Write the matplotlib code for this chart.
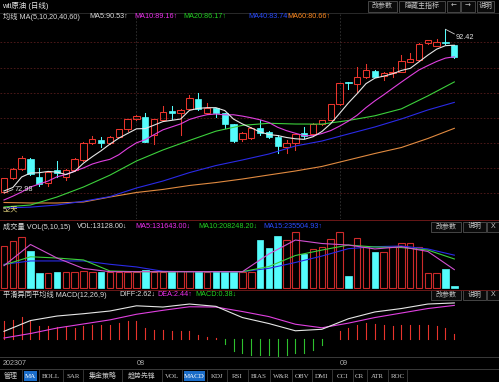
import numpy as np
import matplotlib
matplotlib.use("Agg")
import matplotlib.pyplot as plt
from matplotlib.patches import Rectangle
from matplotlib.lines import Line2D

plt.rcParams['font.family'] = ['Liberation Sans', 'Noto Sans CJK SC', 'DejaVu Sans']

# ---------------- data ----------------
opens = [73.13, 74.72, 75.79, 77.02, 74.91, 74.13, 75.71, 74.91, 75.71, 76.90,
         78.88, 79.27, 78.88, 79.67, 80.54, 81.73, 82.04, 79.87, 81.65, 82.75,
         82.44, 82.92, 84.14, 82.44, 83.04, 82.44, 81.14, 79.36, 79.47, 80.73,
         80.19, 79.59, 78.41, 78.88, 80.07, 79.95, 81.17, 81.65, 83.51, 86.13,
         85.92, 86.72, 87.50, 86.87, 87.19, 87.38, 88.57, 88.77, 90.76, 90.44,
         90.95, 90.56]
highs = [74.80, 75.90, 77.37, 77.10, 75.91, 75.60, 76.78, 75.80, 77.10, 79.05,
         79.75, 79.67, 79.75, 80.60, 81.80, 82.20, 82.48, 81.80, 83.31, 83.31,
         82.90, 84.62, 84.89, 83.67, 83.10, 82.50, 81.20, 80.20, 80.80, 81.65,
         80.30, 79.87, 79.27, 80.00, 80.78, 81.30, 81.70, 83.60, 86.10, 86.15,
         87.98, 88.26, 87.60, 87.30, 87.98, 89.37, 89.57, 90.80, 91.20, 91.23,
         92.42, 90.60]
lows = [72.98, 74.60, 75.70, 75.10, 73.81, 73.81, 74.91, 74.52, 75.60, 76.80,
        78.80, 78.48, 78.80, 79.60, 80.40, 81.60, 79.00, 78.80, 81.60, 81.73,
        79.87, 82.80, 82.80, 82.40, 82.04, 80.70, 79.00, 79.20, 79.40, 79.87,
        79.50, 77.69, 77.69, 78.08, 79.47, 79.90, 81.10, 81.60, 83.40, 85.29,
        85.01, 86.60, 86.70, 86.40, 86.79, 87.30, 88.50, 88.70, 90.70, 90.40,
        90.70, 89.00]
closes = [74.72, 75.79, 77.17, 75.20, 74.05, 75.51, 75.39, 75.71, 77.02, 78.95,
          79.36, 78.95, 79.67, 80.54, 81.73, 82.12, 79.07, 81.73, 82.63, 82.52,
          82.84, 84.23, 82.92, 83.04, 82.52, 81.14, 79.15, 80.07, 80.66, 80.14,
          79.59, 78.56, 78.88, 79.95, 79.75, 81.17, 81.65, 83.51, 86.01, 86.01,
          86.72, 87.59, 86.79, 87.19, 87.38, 88.69, 88.86, 90.67, 91.15, 90.95,
          90.76, 89.09]
volumes = [303000, 337000, 363000, 265000, 105000, 105000, 117000, 117000, 117000, 122000,
           117000, 113000, 117000, 117000, 117000, 113000, 129000, 117000, 117000, 113000,
           124000, 122000, 124000, 117000, 122000, 117000, 117000, 117000, 117000, 344000,
           285000, 373000, 344000, 404000, 242000, 280000, 292000, 351000, 399000, 86000,
           356000, 292000, 260000, 260000, 292000, 320000, 320000, 292000, 110000, 110000,
           134000, 13128]

ma5 = [73.22, 73.63, 74.88, 75.35, 75.39, 75.54, 75.46, 75.17, 75.54, 76.52,
       77.29, 78.00, 78.79, 79.49, 80.05, 80.60, 80.63, 81.04, 81.46, 81.61,
       81.76, 82.79, 83.03, 83.11, 83.11, 82.77, 81.75, 81.18, 80.71, 80.23,
       79.92, 79.80, 79.57, 79.42, 79.35, 79.66, 80.28, 81.21, 82.42, 83.67,
       84.78, 85.97, 86.62, 86.86, 87.13, 87.53, 87.78, 88.56, 89.35, 90.06,
       90.48, 90.53]
ma10 = [72.15, 72.60, 73.10, 73.69, 74.05, 74.40, 74.90, 75.17, 75.59, 75.95,
        76.42, 76.73, 76.98, 77.52, 78.28, 78.94, 79.31, 79.91, 80.48, 80.83,
        81.18, 81.71, 82.03, 82.28, 82.36, 82.26, 82.27, 82.11, 81.91, 81.67,
        81.35, 80.78, 80.38, 80.07, 79.79, 79.79, 80.04, 80.39, 80.92, 81.51,
        82.22, 83.12, 83.92, 84.64, 85.40, 86.15, 86.88, 87.59, 88.11, 88.60,
        89.00, 89.16]
# slower lines sampled every third day
sample_idx = [0, 3, 6, 9, 12, 15, 18, 21, 24, 27, 30, 33, 36, 39, 42, 45, 48, 51]
ma20 = [71.32, 71.55, 72.50, 73.69, 75.10, 76.78, 78.09, 79.22, 80.32, 81.01,
        81.26, 81.17, 81.16, 81.59, 82.15, 82.97, 84.51, 86.17]
ma40 = [71.20, 71.30, 71.55, 72.00, 72.55, 73.57, 74.40, 75.40, 76.24, 76.90,
        77.61, 78.56, 79.15, 79.99, 80.82, 81.77, 82.84, 83.74]
ma60 = [71.85, 71.79, 71.79, 71.91, 72.50, 73.04, 73.40, 73.87, 74.22, 74.64,
        75.12, 75.59, 76.13, 76.90, 77.67, 78.38, 79.45, 80.66]

vol_ma5 = [160000, 312000, 215000, 140000, 117000, 117000, 117000, 117000, 117000,
           117000, 244000, 344000, 319000, 308000, 280000, 296000, 262000, 131643]
vol_ma10 = [165000, 224000, 215000, 201000, 122000, 117000, 117000, 117000, 117000,
            117000, 154000, 233000, 272000, 308000, 294000, 290000, 272000, 208248]
vol_ma15 = [170000, 194000, 194000, 194000, 170000, 151000, 120000, 117000, 117000,
            117000, 141000, 183000, 229000, 282000, 296000, 301000, 280000, 235505]

diff = [0.54, 1.33, 1.66, 1.83, 2.03, 2.41, 2.32, 2.54, 2.37, 1.55,
        1.11, 0.58, 0.69, 1.46, 1.96, 2.21, 2.54, 2.62]
dea = [0.05, 0.38, 0.78, 1.08, 1.38, 1.79, 2.08, 2.34, 2.32, 1.99,
       1.62, 1.06, 0.80, 1.14, 1.55, 1.88, 2.21, 2.44]
macd_hist = [1.27, 1.39, 1.57, 1.27, 0.95, 0.91, 0.84, 0.91, 0.78, 0.95,
             1.03, 0.98, 1.03, 1.15, 1.27, 1.27, 0.78, 0.66, 0.66, 0.59,
             0.54, 0.59, 0.29, 0.10, 0.05, -0.39, -0.92, -1.05, -1.17, -1.17,
             -1.17, -1.29, -1.17, -1.05, -1.05, -0.81, -0.44, -0.03, 0.54, 0.78,
             1.03, 1.15, 1.08, 1.03, 0.91, 0.98, 0.98, 1.03, 0.98, 0.91,
             0.78, 0.38]

month_start_idx = [15, 38]
month_labels = ['08', '09']
first_label = '202307'
days_label = '52天'
title = 'wti原油 (日线)'

main_hdr = [('均线 MA(5,10,20,40,60)', 'w'), ('MA5:90.53↑', 'w'), ('MA10:89.16↑', 'm'),
            ('MA20:86.17↑', 'g'), ('MA40:83.74↑', 'b'), ('MA60:80.66↑', 'o')]
vol_hdr = [('成交量 VOL(5,10,15)', 'w'), ('VOL:13128.00↓', 'w'), ('MA5:131643.00↓', 'm'),
           ('MA10:208248.20↓', 'g'), ('MA15:235504.93↑', 'b')]
macd_hdr = [('平滑异同平均线 MACD(12,26,9)', 'w'), ('DIFF:2.62↓', 'w'),
            ('DEA:2.44↑', 'm'), ('MACD:0.38↓', 'g')]
toolbar = ['管理', 'MA', 'BOLL', 'SAR', '集金策略', '趋势先锋', 'VOL', 'MACD', 'KDJ', 'RSI',
           'BIAS', 'W&R', 'OBV', 'DMI', 'CCI', 'CR', 'ATR', 'ROC']
toolbar_active = ['MA', 'MACD']

# ---------------- style ----------------
W, H = 499, 382
XMIN, XMAX = -0.453, 56.06
RED = '#e8342c'
CYAN = '#54fcfc'
WHITE = '#e6e6e6'
MAG = '#e040e0'
GRN = '#3cd03c'
BLU = '#2a2ae6'
ORG = '#e08a40'
TXT_C = {'w': '#dcdcdc', 'm': '#ee30ee', 'g': '#22d022', 'b': '#2a4cff', 'o': '#ff8a20'}
GRID = '#561c1c'
SEP = '#6a1818'

fig = plt.figure(figsize=(W / 100, H / 100), dpi=100, facecolor='black')


def px_ax(x0, y0, x1, y1):
    ax = fig.add_axes([x0 / W, 1 - y1 / H, (x1 - x0) / W, (y1 - y0) / H])
    ax.set_facecolor('black')
    ax.axis('off')
    ax.set_xlim(XMIN, XMAX)
    return ax


def ftext(x, y, s, color='#dcdcdc', size=5.3, ha='left', **kw):
    fig.text(x / W, 1 - y / H, s, color=color, fontsize=size, ha=ha, va='center', **kw)


def hline(y, x0=0, x1=W, color=SEP, lw=0.7):
    fig.add_artist(Line2D([x0 / W, x1 / W], [1 - y / H, 1 - y / H],
                          transform=fig.transFigure, color=color, lw=lw))


def vline(x, y0, y1, color='#3a3a3a', lw=0.6):
    fig.add_artist(Line2D([x / W, x / W], [1 - y0 / H, 1 - y1 / H],
                          transform=fig.transFigure, color=color, lw=lw))


def button(x0, y0, x1, y1, label, bg='#0a0a0a', ec='#505050', tc='#c8c8c8', size=5.0, family=None):
    fig.add_artist(Rectangle((x0 / W, 1 - y1 / H), (x1 - x0) / W, (y1 - y0) / H,
                             transform=fig.transFigure, facecolor=bg, edgecolor=ec, lw=0.6))
    kw = {}
    if family:
        kw['family'] = family
    ftext((x0 + x1) / 2, (y0 + y1) / 2, label, color=tc, ha='center', size=size, **kw)


idx = np.arange(len(closes))
o = np.array(opens); c = np.array(closes); h = np.array(highs); l = np.array(lows)
up = c >= o

# ---------------- main price panel ----------------
axm = px_ax(0, 13, W, 219)
axm.set_ylim(69.89, 94.356)
for gy in [90.95, 87.86, 84.89, 81.85, 78.88, 75.91, 72.94]:
    axm.axhline(gy, color=GRID, lw=0.6, ls=(0, (2, 2)), zorder=0)
for mi in month_start_idx:
    axm.axvline(mi, color='#343434', lw=0.6, ls=(0, (2, 2)), zorder=0)

bw = 0.72
for i in idx:
    if up[i]:
        axm.add_patch(Rectangle((i - bw / 2, o[i]), bw, c[i] - o[i], fill=False,
                                edgecolor=RED, lw=0.75, zorder=2))
        axm.plot([i, i], [c[i], h[i]], color=RED, lw=0.75, zorder=2)
        axm.plot([i, i], [l[i], o[i]], color=RED, lw=0.75, zorder=2)
    else:
        axm.plot([i, i], [l[i], h[i]], color=CYAN, lw=0.75, zorder=2)
        axm.add_patch(Rectangle((i - bw / 2, c[i]), bw, max(o[i] - c[i], 0.06),
                                facecolor=CYAN, edgecolor=CYAN, lw=0.5, zorder=2))

axm.plot(sample_idx, ma60, color=ORG, lw=0.8, zorder=3)
axm.plot(sample_idx, ma40, color=BLU, lw=0.8, zorder=3)
axm.plot(sample_idx, ma20, color=GRN, lw=0.8, zorder=3)
axm.plot(idx, ma10, color=MAG, lw=0.8, zorder=3)
axm.plot(idx, ma5, color=WHITE, lw=0.8, zorder=3)

imax = int(np.argmax(h)); imin = int(np.argmin(l))
axm.plot([imax, imax + 1.0], [h[imax], h[imax] - 0.55], color='#d0d0d0', lw=0.6, zorder=4)
axm.text(imax + 1.15, h[imax] - 0.98, f'{h[imax]:.2f}', color='#e0e0e0', fontsize=5.3,
         va='center', ha='left', zorder=4)
axm.plot([imin, imin + 1.0], [l[imin], l[imin] + 0.40], color='#d0d0d0', lw=0.6, zorder=4)
axm.text(imin + 1.15, l[imin] + 0.40, f'{l[imin]:.2f}', color='#e0e0e0', fontsize=5.3,
         va='center', ha='left', zorder=4)
ftext(3, 211.5, days_label, color='#e8d880', size=5.3)

# ---------------- volume panel ----------------
axv = px_ax(0, 220, W, 289)
axv.set_ylim(-7170, 487560)
vw = 0.74
for i in idx:
    if up[i]:
        axv.add_patch(Rectangle((i - vw / 2, 0), vw, volumes[i], fill=False,
                                edgecolor='#cc2a2a', lw=0.8, zorder=2))
    else:
        axv.add_patch(Rectangle((i - vw / 2, 0), vw, volumes[i], facecolor=CYAN,
                                edgecolor=CYAN, lw=0.5, zorder=2))
axv.plot(sample_idx, vol_ma15, color=BLU, lw=0.8, zorder=3)
axv.plot(sample_idx, vol_ma10, color=GRN, lw=0.8, zorder=3)
axv.plot(sample_idx, vol_ma5, color='#d050d0', lw=0.8, zorder=3)

# ---------------- MACD panel ----------------
axd = px_ax(0, 290, W, 357)
axd.set_ylim(-1.341, 3.568)
for i in idx:
    v = macd_hist[i]
    axd.plot([i, i], [0, v], color=RED if v >= 0 else '#2ec02e', lw=0.8, zorder=2)
axd.plot(sample_idx, dea, color=MAG, lw=0.8, zorder=3)
axd.plot(sample_idx, diff, color=WHITE, lw=0.8, zorder=3)

# ---------------- frame lines ----------------
hline(12.5, color='#303030', lw=0.6)
hline(219.7)
hline(289.6)
hline(357.0, color='#3a3a3a')
hline(368.8, color='#3a3a3a')

# ---------------- texts ----------------
ftext(2, 5.5, title, color='#e6e6e6', size=5.4)
button(368, 0.5, 397, 11.5, '改参数')
button(399, 0.5, 445, 11.5, '隐藏主指标')
button(447, 0.5, 460, 11.5, '←', family=['DejaVu Sans'])
button(461, 0.5, 475, 11.5, '→', family=['DejaVu Sans'])
button(477, 0.5, 494, 11.5, '说明')

main_x = [3, 89, 134, 183, 248, 287]
for (s, col), x in zip(main_hdr, main_x):
    ftext(x, 16.5, s, color=TXT_C[col], size=5.2)

vol_x = [3, 77, 135, 198, 263]
for (s, col), x in zip(vol_hdr, vol_x):
    ftext(x, 226.5, s, color=TXT_C[col], size=5.2)
button(431, 221.5, 461, 232, '改参数')
button(463, 221.5, 486, 232, '说明')
button(487, 221.5, 499, 232, 'X')

macd_x = [3, 119, 157, 195]
for (s, col), x in zip(macd_hdr, macd_x):
    ftext(x, 294.5, s, color=TXT_C[col], size=5.2)
button(431, 289.8, 461, 300, '改参数')
button(463, 289.8, 486, 300, '说明')
button(487, 289.8, 499, 300, 'X')

# date axis
ftext(3, 363.5, first_label, color='#b0b0b0', size=5.2)
for mi, lab in zip(month_start_idx, month_labels):
    xp = (mi - XMIN) / (XMAX - XMIN) * W
    ftext(xp, 363.5, lab, color='#b0b0b0', size=5.2)

# toolbar
tb_seps = [0, 21.7, 39.3, 63.3, 83.3, 121.7, 161.7, 181.7, 206.7, 226.7, 247.5,
           270, 291.7, 311.7, 331.7, 352.7, 366.7, 388.3, 406.7]
for k, lab in enumerate(toolbar):
    x0, x1 = tb_seps[k], tb_seps[k + 1]
    if lab in toolbar_active:
        fig.add_artist(Rectangle(((x0 + 2) / W, 1 - 381 / H), (x1 - x0 - 4) / W, 10.5 / H,
                                 transform=fig.transFigure, facecolor='#1a6cc8',
                                 edgecolor='none'))
        tc = '#ffffff'
    else:
        tc = '#c8c8c8'
    fam = ['Liberation Serif', 'Noto Sans CJK SC'] if lab.isascii() else ['Noto Sans CJK SC']
    ftext((x0 + x1) / 2, 376, lab, color=tc, size=5.0, ha='center', family=fam)
    if k > 0:
        vline(x0, 370, 382, color='#3c3c3c')
vline(tb_seps[-1], 370, 382, color='#3c3c3c')

fig.savefig('out.png', dpi=100, facecolor='black')
